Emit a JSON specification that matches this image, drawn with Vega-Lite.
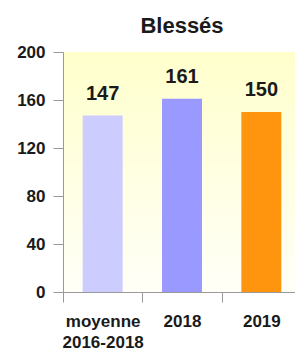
{
  "$schema": "https://vega.github.io/schema/vega-lite/v6.json",
  "padding": {"left": 16, "top": 15, "right": 0, "bottom": 0},
  "width": 238,
  "height": 240,
  "title": {"text": "Blessés", "fontSize": 22, "font": "Liberation Sans", "fontWeight": "bold", "color": "#1a1a1a", "offset": 5, "anchor": "middle"},
  "config": {
    "view": {"stroke": null, "fill": {"gradient": "linear", "x1": 0, "y1": 0, "x2": 0, "y2": 1, "stops": [{"offset": 0, "color": "#ffffcc"}, {"offset": 1, "color": "#fffff8"}]}},
    "font": "Liberation Sans"
  },
  "data": {"values": [
    {"categorie": "moyenne|2016-2018", "blesses": 147, "couleur": "#ccccff"},
    {"categorie": "2018", "blesses": 161, "couleur": "#9999ff"},
    {"categorie": "2019", "blesses": 150, "couleur": "#ff950e"}
  ]},
  "encoding": {
    "x": {"field": "categorie", "type": "nominal", "sort": null,
      "scale": {"paddingInner": 0, "paddingOuter": 0},
      "axis": {"title": null, "labelAngle": 0, "tickBand": "extent", "tickSize": 10, "domainColor": "#999999", "tickColor": "#999999", "labelFontSize": 17, "labelFontWeight": "bold", "labelColor": "#1a1a1a", "labelPadding": 11, "labelLineHeight": 21, "labelExpr": "split(datum.label, '|')"}},
    "y": {"field": "blesses", "type": "quantitative",
      "scale": {"domain": [0, 200]},
      "axis": {"title": null, "values": [0, 40, 80, 120, 160, 200], "grid": false, "tickSize": 10, "domainColor": "#999999", "tickColor": "#999999", "labelFontSize": 17, "labelFontWeight": "bold", "labelColor": "#1a1a1a", "labelPadding": 8}}
  },
  "layer": [
    {"mark": {"type": "bar", "size": 40}, "encoding": {"color": {"field": "couleur", "type": "nominal", "scale": null}}},
    {"mark": {"type": "text", "dy": -12, "baseline": "bottom", "fontSize": 20, "fontWeight": "bold", "color": "#1a1a1a"}, "encoding": {"text": {"field": "blesses", "type": "quantitative"}}}
  ]
}
